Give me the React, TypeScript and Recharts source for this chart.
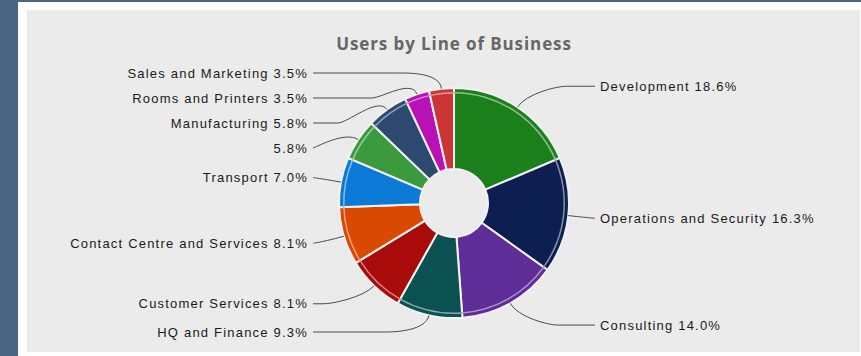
import { Cell, Pie, PieChart } from "recharts";

const categories = [
  "Development",
  "Operations and Security",
  "Consulting",
  "HQ and Finance",
  "Customer Services",
  "Contact Centre and Services",
  "Transport",
  "",
  "Manufacturing",
  "Rooms and Printers",
  "Sales and Marketing",
];
const users = [16, 14, 12, 8, 7, 7, 6, 5, 5, 3, 3];
const colors = [
  "#1b801b",
  "#0c1f50",
  "#5e2d98",
  "#0b5152",
  "#a90a0a",
  "#d94900",
  "#0b79d6",
  "#3b9a3b",
  "#2e4970",
  "#b912b4",
  "#cb3535",
];

const W = 861;
const H = 356;
const CX = 454;
const CY = 203;
const R_IN = 34;
const R_OUT = 115;
const LABEL_R = 140;
const LABEL_GAP = 25;
const LABEL_TOP = 73;
const LABEL_BOTTOM = 332;
const TEXT_OFF = 146;
const LINE_OFF = 141;

const total = users.reduce((a, b) => a + b, 0);
const data = categories.map((name, i) => ({
  name,
  value: users[i],
  pct: (users[i] / total) * 100,
}));

function lighten(hex: string, t: number) {
  const n = parseInt(hex.slice(1), 16);
  const mix = (c: number) => Math.round(c + (255 - c) * t);
  const r = mix((n >> 16) & 255);
  const g = mix((n >> 8) & 255);
  const b = mix(n & 255);
  return `rgb(${r},${g},${b})`;
}

// label y positions: natural position on a circle, then pushed apart per side
function layoutLabels() {
  let acc = 0;
  const items = data.map((d, i) => {
    const theta = ((acc + d.value / 2) / total) * 2 * Math.PI; // clockwise from top
    acc += d.value;
    return {
      i,
      right: theta < Math.PI,
      y: CY - LABEL_R * Math.cos(theta),
    };
  });
  const ys: number[] = new Array(data.length).fill(0);
  [true, false].forEach((side) => {
    const s = items.filter((it) => it.right === side).sort((a, b) => a.y - b.y);
    const pos = s.map((it) => it.y);
    for (let k = 0; k < pos.length; k++) {
      pos[k] = Math.max(pos[k], LABEL_TOP, k > 0 ? pos[k - 1] + LABEL_GAP : -Infinity);
    }
    for (let k = pos.length - 1; k >= 0; k--) {
      pos[k] = Math.min(pos[k], LABEL_BOTTOM, k < pos.length - 1 ? pos[k + 1] - LABEL_GAP : Infinity);
    }
    s.forEach((it, k) => (ys[it.i] = pos[k]));
  });
  return { ys, sides: items.map((it) => it.right) };
}

const layout = layoutLabels();

function renderLabel(props: any) {
  const { index, midAngle } = props;
  const cx = props.cx ?? CX;
  const cy = props.cy ?? CY;
  const rad = (-midAngle * Math.PI) / 180;
  const dx = Math.cos(rad);
  const dy = Math.sin(rad);
  const ex = cx + R_OUT * dx;
  const ey = cy + R_OUT * dy;
  const p1x = cx + (R_OUT + 16) * dx;
  const p1y = cy + (R_OUT + 16) * dy;
  const right = layout.sides[index];
  const ly = layout.ys[index];
  const endX = right ? cx + LINE_OFF : cx - LINE_OFF;
  const p2x = right ? Math.min(p1x + 30, endX) : Math.max(p1x - 30, endX);
  const d = data[index];
  const text = `${d.name ? d.name + " " : ""}${d.pct.toFixed(1)}%`;
  return (
    <g key={`lbl-${index}`}>
      <path
        d={`M${ex},${ey} C${p1x},${p1y} ${p2x},${ly} ${right ? Math.min(p2x + 10, endX) : Math.max(p2x - 10, endX)},${ly} L${endX},${ly}`}
        stroke="#4a4a4a"
        strokeWidth={1}
        fill="none"
      />
      <text
        x={right ? cx + TEXT_OFF : cx - TEXT_OFF}
        y={ly}
        textAnchor={right ? "start" : "end"}
        dominantBaseline="central"
        fill="#1a1a1a"
        fontSize={13}
        letterSpacing={1.2}
        fontFamily="'Liberation Sans', Arial, sans-serif"
      >
        {text}
      </text>
    </g>
  );
}

export default function App() {
  return (
    <div style={{ position: "relative", width: W, height: H, background: "#4b6584" }}>
      <style>{"body{margin:0;background:#4b6584}"}</style>
      <div style={{ position: "absolute", left: 18, top: 2, width: W - 18, height: H - 2, background: "#fff" }} />
      <div style={{ position: "absolute", left: 27, top: 10, width: 833, height: 342, background: "#ebebeb" }} />
      <div
        style={{
          position: "absolute",
          left: 0,
          top: 33,
          width: CX * 2,
          textAlign: "center",
          font: "bold 17px 'Open Sans', sans-serif",
          letterSpacing: "0.9px",
          lineHeight: "22px",
          color: "#666",
        }}
      >
        Users by Line of Business
      </div>
      <div style={{ position: "absolute", left: 0, top: 0 }}>
        <PieChart width={W} height={H} margin={{ top: 0, right: 0, bottom: 0, left: 0 }}>
          <Pie
            data={data}
            dataKey="value"
            nameKey="name"
            cx={CX}
            cy={CY}
            innerRadius={R_IN}
            outerRadius={R_OUT}
            startAngle={90}
            endAngle={-270}
            stroke="#f2f2f2"
            strokeWidth={2}
            label={renderLabel}
            labelLine={false}
            isAnimationActive={false}
          >
            {data.map((d, i) => (
              <Cell key={d.name + i} fill={colors[i]} />
            ))}
          </Pie>
          <Pie
            data={data}
            dataKey="value"
            cx={CX}
            cy={CY}
            innerRadius={109.5}
            outerRadius={111}
            startAngle={90}
            endAngle={-270}
            stroke="none"
            isAnimationActive={false}
          >
            {data.map((d, i) => (
              <Cell key={"ring" + i} fill={lighten(colors[i], 0.5)} />
            ))}
          </Pie>
        </PieChart>
      </div>
    </div>
  );
}
